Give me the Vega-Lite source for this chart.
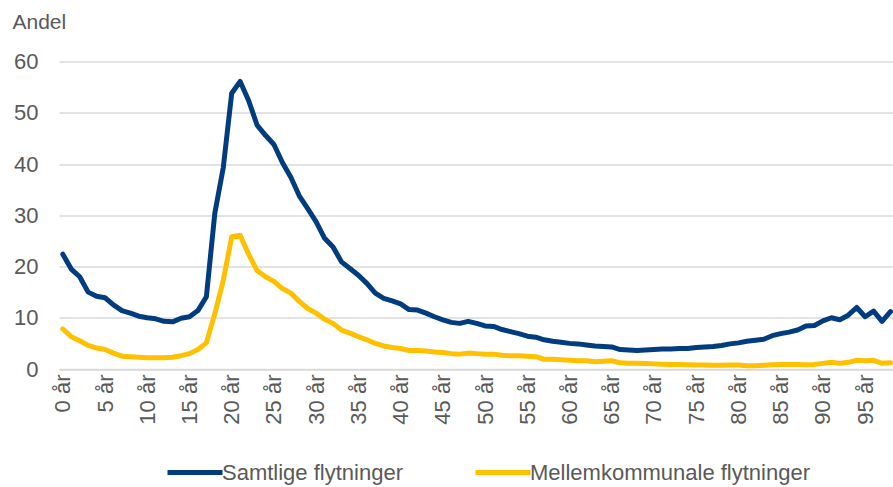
{
  "$schema": "https://vega.github.io/schema/vega-lite/v6.json",
  "width": 834,
  "height": 307.5,
  "autosize": {"type": "none"},
  "padding": {"left": 59, "top": 61.5, "right": 0, "bottom": 118},
  "background": "#ffffff",
  "config": {
    "view": {"stroke": null},
    "font": "Liberation Sans",
    "axis": {"labelFont": "Liberation Sans", "titleFont": "Liberation Sans", "labelColor": "#595959", "titleColor": "#595959"},
    "legend": {"labelFont": "Liberation Sans", "labelColor": "#595959"}
  },
  "data": {
    "values": [
      {"a":0,"Samtlige flytninger":22.4,"Mellemkommunale flytninger":7.8},
      {"a":1,"Samtlige flytninger":19.5,"Mellemkommunale flytninger":6.3},
      {"a":2,"Samtlige flytninger":18.0,"Mellemkommunale flytninger":5.5},
      {"a":3,"Samtlige flytninger":15.0,"Mellemkommunale flytninger":4.6},
      {"a":4,"Samtlige flytninger":14.2,"Mellemkommunale flytninger":4.1},
      {"a":5,"Samtlige flytninger":13.9,"Mellemkommunale flytninger":3.8},
      {"a":6,"Samtlige flytninger":12.5,"Mellemkommunale flytninger":3.1},
      {"a":7,"Samtlige flytninger":11.4,"Mellemkommunale flytninger":2.5},
      {"a":8,"Samtlige flytninger":10.9,"Mellemkommunale flytninger":2.4},
      {"a":9,"Samtlige flytninger":10.3,"Mellemkommunale flytninger":2.3},
      {"a":10,"Samtlige flytninger":10.0,"Mellemkommunale flytninger":2.2},
      {"a":11,"Samtlige flytninger":9.8,"Mellemkommunale flytninger":2.2},
      {"a":12,"Samtlige flytninger":9.3,"Mellemkommunale flytninger":2.2},
      {"a":13,"Samtlige flytninger":9.2,"Mellemkommunale flytninger":2.3},
      {"a":14,"Samtlige flytninger":9.9,"Mellemkommunale flytninger":2.6},
      {"a":15,"Samtlige flytninger":10.2,"Mellemkommunale flytninger":3.0},
      {"a":16,"Samtlige flytninger":11.4,"Mellemkommunale flytninger":3.8},
      {"a":17,"Samtlige flytninger":14.1,"Mellemkommunale flytninger":5.1},
      {"a":18,"Samtlige flytninger":30.4,"Mellemkommunale flytninger":10.8},
      {"a":19,"Samtlige flytninger":39.3,"Mellemkommunale flytninger":17.3},
      {"a":20,"Samtlige flytninger":53.8,"Mellemkommunale flytninger":25.8},
      {"a":21,"Samtlige flytninger":56.1,"Mellemkommunale flytninger":26.1},
      {"a":22,"Samtlige flytninger":52.4,"Mellemkommunale flytninger":22.4},
      {"a":23,"Samtlige flytninger":47.6,"Mellemkommunale flytninger":19.2},
      {"a":24,"Samtlige flytninger":45.6,"Mellemkommunale flytninger":18.0},
      {"a":25,"Samtlige flytninger":43.8,"Mellemkommunale flytninger":17.1},
      {"a":26,"Samtlige flytninger":40.3,"Mellemkommunale flytninger":15.7},
      {"a":27,"Samtlige flytninger":37.4,"Mellemkommunale flytninger":14.8},
      {"a":28,"Samtlige flytninger":33.8,"Mellemkommunale flytninger":13.2},
      {"a":29,"Samtlige flytninger":31.3,"Mellemkommunale flytninger":11.8},
      {"a":30,"Samtlige flytninger":28.7,"Mellemkommunale flytninger":10.9},
      {"a":31,"Samtlige flytninger":25.5,"Mellemkommunale flytninger":9.7},
      {"a":32,"Samtlige flytninger":23.8,"Mellemkommunale flytninger":8.9},
      {"a":33,"Samtlige flytninger":20.9,"Mellemkommunale flytninger":7.6},
      {"a":34,"Samtlige flytninger":19.6,"Mellemkommunale flytninger":7.0},
      {"a":35,"Samtlige flytninger":18.3,"Mellemkommunale flytninger":6.3},
      {"a":36,"Samtlige flytninger":16.7,"Mellemkommunale flytninger":5.7},
      {"a":37,"Samtlige flytninger":14.8,"Mellemkommunale flytninger":5.0},
      {"a":38,"Samtlige flytninger":13.8,"Mellemkommunale flytninger":4.5},
      {"a":39,"Samtlige flytninger":13.3,"Mellemkommunale flytninger":4.2},
      {"a":40,"Samtlige flytninger":12.7,"Mellemkommunale flytninger":4.0},
      {"a":41,"Samtlige flytninger":11.6,"Mellemkommunale flytninger":3.6},
      {"a":42,"Samtlige flytninger":11.5,"Mellemkommunale flytninger":3.6},
      {"a":43,"Samtlige flytninger":10.9,"Mellemkommunale flytninger":3.5},
      {"a":44,"Samtlige flytninger":10.2,"Mellemkommunale flytninger":3.3},
      {"a":45,"Samtlige flytninger":9.6,"Mellemkommunale flytninger":3.2},
      {"a":46,"Samtlige flytninger":9.1,"Mellemkommunale flytninger":3.0},
      {"a":47,"Samtlige flytninger":8.9,"Mellemkommunale flytninger":2.9},
      {"a":48,"Samtlige flytninger":9.3,"Mellemkommunale flytninger":3.1},
      {"a":49,"Samtlige flytninger":8.9,"Mellemkommunale flytninger":3.0},
      {"a":50,"Samtlige flytninger":8.4,"Mellemkommunale flytninger":2.9},
      {"a":51,"Samtlige flytninger":8.3,"Mellemkommunale flytninger":2.9},
      {"a":52,"Samtlige flytninger":7.7,"Mellemkommunale flytninger":2.7},
      {"a":53,"Samtlige flytninger":7.3,"Mellemkommunale flytninger":2.6},
      {"a":54,"Samtlige flytninger":6.9,"Mellemkommunale flytninger":2.6},
      {"a":55,"Samtlige flytninger":6.4,"Mellemkommunale flytninger":2.5},
      {"a":56,"Samtlige flytninger":6.2,"Mellemkommunale flytninger":2.4},
      {"a":57,"Samtlige flytninger":5.7,"Mellemkommunale flytninger":1.9},
      {"a":58,"Samtlige flytninger":5.4,"Mellemkommunale flytninger":1.9},
      {"a":59,"Samtlige flytninger":5.2,"Mellemkommunale flytninger":1.8},
      {"a":60,"Samtlige flytninger":5.0,"Mellemkommunale flytninger":1.7},
      {"a":61,"Samtlige flytninger":4.9,"Mellemkommunale flytninger":1.6},
      {"a":62,"Samtlige flytninger":4.7,"Mellemkommunale flytninger":1.6},
      {"a":63,"Samtlige flytninger":4.5,"Mellemkommunale flytninger":1.4},
      {"a":64,"Samtlige flytninger":4.4,"Mellemkommunale flytninger":1.5},
      {"a":65,"Samtlige flytninger":4.3,"Mellemkommunale flytninger":1.6},
      {"a":66,"Samtlige flytninger":3.8,"Mellemkommunale flytninger":1.2},
      {"a":67,"Samtlige flytninger":3.7,"Mellemkommunale flytninger":1.1},
      {"a":68,"Samtlige flytninger":3.6,"Mellemkommunale flytninger":1.1},
      {"a":69,"Samtlige flytninger":3.7,"Mellemkommunale flytninger":1.05},
      {"a":70,"Samtlige flytninger":3.8,"Mellemkommunale flytninger":1.0},
      {"a":71,"Samtlige flytninger":3.9,"Mellemkommunale flytninger":0.95},
      {"a":72,"Samtlige flytninger":3.9,"Mellemkommunale flytninger":0.9},
      {"a":73,"Samtlige flytninger":4.0,"Mellemkommunale flytninger":0.9},
      {"a":74,"Samtlige flytninger":4.0,"Mellemkommunale flytninger":0.85},
      {"a":75,"Samtlige flytninger":4.2,"Mellemkommunale flytninger":0.8},
      {"a":76,"Samtlige flytninger":4.3,"Mellemkommunale flytninger":0.8},
      {"a":77,"Samtlige flytninger":4.4,"Mellemkommunale flytninger":0.75},
      {"a":78,"Samtlige flytninger":4.6,"Mellemkommunale flytninger":0.75},
      {"a":79,"Samtlige flytninger":4.9,"Mellemkommunale flytninger":0.8},
      {"a":80,"Samtlige flytninger":5.1,"Mellemkommunale flytninger":0.8},
      {"a":81,"Samtlige flytninger":5.4,"Mellemkommunale flytninger":0.65},
      {"a":82,"Samtlige flytninger":5.6,"Mellemkommunale flytninger":0.65},
      {"a":83,"Samtlige flytninger":5.8,"Mellemkommunale flytninger":0.75},
      {"a":84,"Samtlige flytninger":6.5,"Mellemkommunale flytninger":0.85},
      {"a":85,"Samtlige flytninger":6.9,"Mellemkommunale flytninger":0.9},
      {"a":86,"Samtlige flytninger":7.2,"Mellemkommunale flytninger":0.9},
      {"a":87,"Samtlige flytninger":7.6,"Mellemkommunale flytninger":0.9},
      {"a":88,"Samtlige flytninger":8.4,"Mellemkommunale flytninger":0.85},
      {"a":89,"Samtlige flytninger":8.5,"Mellemkommunale flytninger":0.9},
      {"a":90,"Samtlige flytninger":9.4,"Mellemkommunale flytninger":1.1},
      {"a":91,"Samtlige flytninger":10.0,"Mellemkommunale flytninger":1.3},
      {"a":92,"Samtlige flytninger":9.6,"Mellemkommunale flytninger":1.1},
      {"a":93,"Samtlige flytninger":10.5,"Mellemkommunale flytninger":1.3},
      {"a":94,"Samtlige flytninger":12.0,"Mellemkommunale flytninger":1.7},
      {"a":95,"Samtlige flytninger":10.2,"Mellemkommunale flytninger":1.6},
      {"a":96,"Samtlige flytninger":11.3,"Mellemkommunale flytninger":1.7},
      {"a":97,"Samtlige flytninger":9.3,"Mellemkommunale flytninger":1.1},
      {"a":98,"Samtlige flytninger":11.2,"Mellemkommunale flytninger":1.2}
    ]
  },
  "transform": [
    {"fold": ["Samtlige flytninger", "Mellemkommunale flytninger"], "as": ["serie", "andel"]}
  ],
  "mark": {"type": "line", "strokeWidth": 5, "strokeJoin": "round", "strokeCap": "round", "clip": true},
  "encoding": {
    "x": {
      "field": "a",
      "type": "quantitative",
      "scale": {"domain": [-0.45, 98.3], "nice": false, "zero": false},
      "axis": {
        "title": null,
        "values": [0,5,10,15,20,25,30,35,40,45,50,55,60,65,70,75,80,85,90,95],
        "labelExpr": "datum.value + ' år'",
        "labelAngle": 270,
        "labelAlign": "right",
        "labelBaseline": "middle",
        "labelFontSize": 22,
        "labelPadding": 5,
        "ticks": false,
        "grid": false,
        "domainColor": "#d9d9d9",
        "domainWidth": 1.5,
        "labelOverlap": false,
        "labelFlush": false
      }
    },
    "y": {
      "field": "andel",
      "type": "quantitative",
      "scale": {"domain": [0, 60], "nice": false},
      "axis": {
        "title": "Andel",
        "titleAngle": 0,
        "titleAlign": "left",
        "titleBaseline": "alphabetic",
        "titleX": -47,
        "titleY": -33,
        "titleFontSize": 21,
        "titleFontWeight": "normal",
        "values": [0,10,20,30,40,50,60],
        "labelFontSize": 22,
        "labelPadding": 21,
        "ticks": false,
        "domain": false,
        "gridColor": "#d9d9d9",
        "gridWidth": 1.5
      }
    },
    "color": {
      "field": "serie",
      "type": "nominal",
      "scale": {"domain": ["Samtlige flytninger", "Mellemkommunale flytninger"], "range": ["#003C7E", "#FFC000"]},
      "legend": {
        "title": null,
        "orient": "none",
        "direction": "horizontal",
        "legendX": 106,
        "legendY": 381,
        "symbolType": "stroke",
        "symbolSize": 3025,
        "symbolStrokeWidth": 5,
        "labelFontSize": 22,
        "labelLimit": 400,
        "labelOffset": -3,
        "columnPadding": 62
      }
    }
  }
}
